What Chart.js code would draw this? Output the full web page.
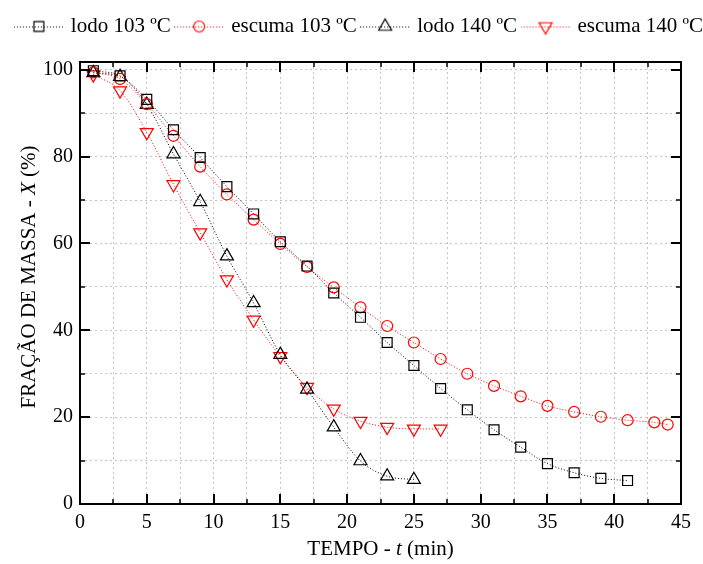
<!DOCTYPE html>
<html><head><meta charset="utf-8">
<script src="https://cdn.jsdelivr.net/npm/chart.js@4/dist/chart.umd.min.js"></script>
<style>html,body{margin:0;padding:0;background:#fff}#wrap{width:703px;height:564px;position:relative;overflow:hidden}</style>
</head><body><div id="wrap"><canvas id="c"></canvas></div>
<script>
// ---- data ----
const seriesLabels = ['lodo 103 ºC', 'escuma 103 ºC', 'lodo 140 ºC', 'escuma 140 ºC'];
const tLodo103 = [1,3,5,7,9,11,13,15,17,19,21,23,25,27,29,31,33,35,37,39,41];
const lodo103  = [99.8,98.6,93.2,86.2,79.8,73.1,66.8,60.4,54.8,48.6,43.0,37.2,31.9,26.6,21.7,17.1,13.1,9.3,7.2,5.9,5.4];
const tEscuma103 = [1,3,5,7,9,11,13,15,17,19,21,23,25,27,29,31,33,35,37,39,41,43,44];
const escuma103  = [99.4,97.9,92.1,84.8,77.7,71.3,65.5,59.9,54.6,49.9,45.3,41.0,37.2,33.4,30.0,27.2,24.8,22.6,21.2,20.1,19.3,18.8,18.3];
const tLodo140 = [1,3,5,7,9,11,13,15,17,19,21,23,25];
const lodo140  = [99.3,98.4,92.0,80.6,69.6,57.1,46.3,34.4,26.4,17.7,9.9,6.4,5.6];
const tEscuma140 = [1,3,5,7,9,11,13,15,17,19,21,23,25,27];
const escuma140  = [98.9,95.2,85.6,73.6,62.5,51.7,42.4,34.0,26.9,21.9,19.1,17.7,17.3,17.3];
const xTickValues = [0,5,10,15,20,25,30,35,40,45];
const yTickValues = [0,20,40,60,80,100];
const xTitleParts = [['TEMPO - ', false], ['t', true], [' (min)', false]];
const yTitleParts = [['FRAÇÃO DE MASSA - ', false], ['X', true], [' (%)', false]];

const FONT = "'Liberation Serif', 'Times New Roman', serif";
const RED = '#ff0000', BLACK = '#000000';

const styles = [
  {color: BLACK, pointStyle: 'rect', radius: 7, rotation: 0},
  {color: RED, pointStyle: 'circle', radius: 5.5, rotation: 0},
  {color: BLACK, pointStyle: 'triangle', radius: 7.5, rotation: 0},
  {color: RED, pointStyle: 'triangle', radius: 7.5, rotation: 180}
];
const xs = [tLodo103, tEscuma103, tLodo140, tEscuma140];
const ys = [lodo103, escuma103, lodo140, escuma140];

function legendImage(st) {
  const cv = document.createElement('canvas');
  cv.width = 50; cv.height = 20;
  const c = cv.getContext('2d');
  c.strokeStyle = st.color; c.lineWidth = 1; c.setLineDash([1,2]);
  c.beginPath(); c.moveTo(0, 10.5); c.lineTo(50, 10.5); c.stroke();
  c.setLineDash([]);
  c.fillStyle = 'rgba(0,0,0,0)'; c.strokeStyle = st.color; c.lineWidth = 1.2;
  Chart.helpers.drawPoint(c, {pointStyle: st.pointStyle, rotation: st.rotation, radius: st.radius, borderWidth: 1.2}, 25, 10);
  return cv;
}
const legendImgs = styles.map(legendImage);

const datasets = styles.map((st, i) => ({
  label: seriesLabels[i],
  data: xs[i].map((x, k) => ({x: x, y: ys[i][k]})),
  borderColor: st.color,
  backgroundColor: 'rgba(0,0,0,0)',
  borderWidth: 1,
  borderDash: [1, 2],
  cubicInterpolationMode: 'monotone',
  pointStyle: st.pointStyle,
  pointRotation: st.rotation,
  pointRadius: st.radius,
  pointHoverRadius: st.radius,
  pointBorderWidth: 1.2,
  pointBorderColor: st.color,
  pointBackgroundColor: 'rgba(0,0,0,0)',
  fill: false
}));

function drawMixed(ctx, parts, cx, cy, size) {
  let total = 0;
  const widths = parts.map(([t, it]) => { ctx.font = (it ? 'italic ' : '') + size + 'px ' + FONT; const w = ctx.measureText(t).width; total += w; return w; });
  let x = cx - total / 2;
  ctx.textAlign = 'left'; ctx.textBaseline = 'middle'; ctx.fillStyle = '#000';
  parts.forEach(([t, it], i) => { ctx.font = (it ? 'italic ' : '') + size + 'px ' + FONT; ctx.fillText(t, x, cy); x += widths[i]; });
}

const framePlugin = {
  id: 'frameTicksTitles',
  afterDraw(chart) {
    const ctx = chart.ctx, a = chart.chartArea, sx = chart.scales.x, sy = chart.scales.y;
    ctx.save();
    ctx.strokeStyle = '#000';
    for (let v = 0; v <= 45.001; v += 2.5) {
      const px = Math.round(sx.getPixelForValue(v));
      const major = xTickValues.includes(v);
      const len = major ? 10 : 5;
      ctx.lineWidth = major ? 2 : 1.5;
      ctx.beginPath();
      ctx.moveTo(px, a.bottom); ctx.lineTo(px, a.bottom - len);
      ctx.moveTo(px, a.top); ctx.lineTo(px, a.top + len);
      ctx.stroke();
    }
    for (let v = 0; v <= 100; v += 10) {
      const py = Math.round(sy.getPixelForValue(v));
      const major = yTickValues.includes(v);
      const len = major ? 10 : 5;
      ctx.lineWidth = major ? 2 : 1.5;
      ctx.beginPath();
      ctx.moveTo(a.left, py); ctx.lineTo(a.left + len, py);
      ctx.moveTo(a.right, py); ctx.lineTo(a.right - len, py);
      ctx.stroke();
    }
    ctx.lineWidth = 2;
    ctx.strokeRect(a.left, a.top, a.right - a.left, a.bottom - a.top);
    drawMixed(ctx, xTitleParts, (a.left + a.right) / 2, 549, 21);
    ctx.translate(29, 277); ctx.rotate(-Math.PI / 2);
    drawMixed(ctx, yTitleParts, 0, 0, 21);
    ctx.restore();
  }
};

const PAD_TOP = 9, PAD_RIGHT = -7;

new Chart(document.getElementById('c'), {
  type: 'line',
  data: {datasets: datasets},
  plugins: [framePlugin],
  options: {
    responsive: true, maintainAspectRatio: false, devicePixelRatio: 1, animation: false,
    layout: {padding: {top: PAD_TOP, right: PAD_RIGHT, left: 0, bottom: 0}},
    plugins: {
      tooltip: {enabled: false},
      legend: {
        display: true, position: 'top', align: 'end',
        labels: {
          usePointStyle: true, pointStyleWidth: 43, boxHeight: 20, padding: 7,
          color: '#000', font: {family: FONT, size: 21},
          generateLabels(chart) {
            return chart.data.datasets.map((ds, i) => ({
              text: ds.label, pointStyle: legendImgs[i], fontColor: '#000', hidden: false,
              datasetIndex: i, lineWidth: 0, strokeStyle: 'rgba(0,0,0,0)', fillStyle: 'rgba(0,0,0,0)'
            }));
          }
        }
      }
    },
    scales: {
      x: {
        type: 'linear', position: 'bottom', min: 0, max: 45,
        afterFit(s) { s.height = 60; },
        grid: {color: '#c4c4c4', lineWidth: 1, drawTicks: false},
        border: {display: false, dash: [2, 3]},
        ticks: {stepSize: 2.5, padding: 7, color: '#000', font: {family: FONT, size: 20}, maxRotation: 0, autoSkip: false,
          callback: v => xTickValues.includes(v) ? String(v) : ''}
      },
      y: {
        type: 'linear', position: 'left', min: 0, max: 101.8,
        afterFit(s) { s.width = 80; },
        grid: {color: '#c4c4c4', lineWidth: 1, drawTicks: false},
        border: {display: false, dash: [2, 3]},
        ticks: {stepSize: 10, includeBounds: false, padding: 7, color: '#000', font: {family: FONT, size: 20}, autoSkip: false,
          callback: v => yTickValues.includes(v) ? String(v) : ''}
      },
      xTop: {
        type: 'linear', position: 'top', display: true,
        afterFit(s) { const lh = s.chart.legend ? s.chart.legend.height : 0; s.height = Math.max(0, 62 - PAD_TOP - lh); },
        grid: {display: false, drawTicks: false}, border: {display: false}, ticks: {display: false}
      },
      yRight: {
        type: 'linear', position: 'right', display: true,
        afterFit(s) { s.width = 22 - PAD_RIGHT; },
        grid: {display: false, drawTicks: false}, border: {display: false}, ticks: {display: false}
      }
    }
  }
});
</script>
</body></html>
